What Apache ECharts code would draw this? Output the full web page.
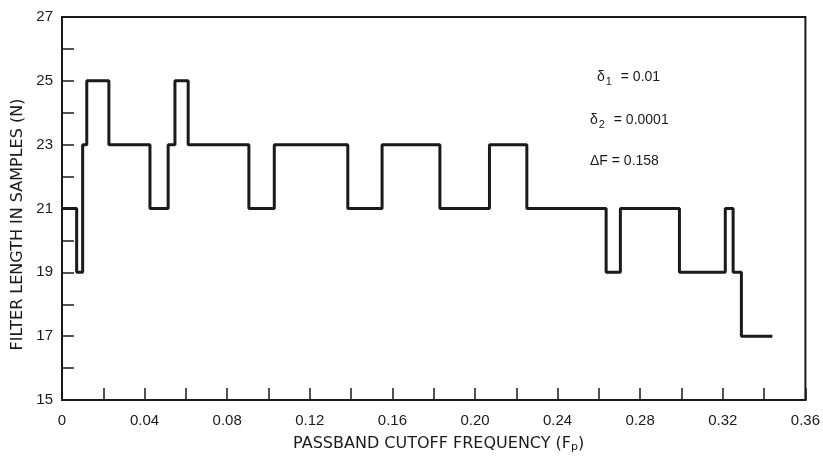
<!DOCTYPE html>
<html>
<head>
<meta charset="utf-8">
<script src="https://cdn.jsdelivr.net/npm/echarts@6/dist/echarts.min.js"></script>
<style>
  html, body { margin: 0; padding: 0; background: #fff; }
  #chart { width: 823px; height: 458px; }
</style>
</head>
<body>
<div id="chart"></div>
<script>
// frequency where each level starts (step 'end'), last point closes the trace
const stepStart = [0, 0.0071, 0.0100, 0.0120, 0.0227, 0.0426, 0.0514, 0.0547, 0.0611,
  0.0905, 0.1028, 0.1384, 0.1550, 0.1830, 0.2070, 0.2251, 0.2635, 0.2704, 0.2990,
  0.3212, 0.3250, 0.3290, 0.3440]
const filterLen = [21, 19, 23, 25, 23, 21, 23, 25, 23,
  21, 23, 21, 23, 21, 23, 21, 19, 21, 19,
  21, 19, 17, 17]
const xLabels = ['0', '0.04', '0.08', '0.12', '0.16', '0.20', '0.24', '0.28', '0.32', '0.36']
const yLabels = [15, 17, 19, 21, 23, 25, 27]
const notes = ['{d|δ}{s|1} = 0.01', '{d|δ}{s|2} = 0.0001', 'ΔF = 0.158']

const font = 'Liberation Sans'
const nameFont = 'DejaVu Sans'
const ink = '#1a1a1a'

const chart = echarts.init(document.getElementById('chart'))

const option = {
  animation: false,
  grid: { left: 62, right: 17, top: 17, bottom: 52, show: true, borderColor: ink, borderWidth: 2 },
  xAxis: {
    type: 'value', min: 0, max: 0.36, interval: 0.02,
    axisLine: { lineStyle: { color: ink, width: 2 } },
    axisTick: { inside: true, length: 12, lineStyle: { color: ink, width: 1.5 } },
    splitLine: { show: false },
    axisLabel: {
      color: ink, fontFamily: font, fontSize: 15, margin: 13,
      formatter: v => {
        const i = Math.round(v / 0.04 * 1000) / 1000
        return Number.isInteger(i) ? xLabels[i] : ''
      }
    },
    name: 'PASSBAND CUTOFF FREQUENCY (F{s|p})',
    nameLocation: 'middle', nameGap: 34,
    nameTextStyle: {
      color: ink, fontFamily: nameFont, fontSize: 16, padding: [0, 0, 0, 10],
      rich: { s: { fontFamily: nameFont, fontSize: 11, color: ink, padding: [8, 0, 0, 0] } }
    }
  },
  yAxis: {
    type: 'value', min: 15, max: 27, interval: 1,
    axisLine: { show: true, lineStyle: { color: ink, width: 2 } },
    axisTick: { show: true, inside: true, length: 12, lineStyle: { color: ink, width: 1.5 } },
    splitLine: { show: false },
    axisLabel: {
      color: ink, fontFamily: font, fontSize: 15, margin: 9,
      formatter: v => yLabels.includes(v) ? String(v) : ''
    },
    name: 'FILTER LENGTH IN SAMPLES (N)',
    nameLocation: 'middle', nameGap: 33,
    nameTextStyle: { color: ink, fontFamily: nameFont, fontSize: 16, padding: [0, 32, 0, 0] }
  },
  graphic: notes.map((t, i) => ({
    type: 'text',
    left: i === 0 ? 597 : 590,
    top: [70, 113, 154][i],
    style: {
      text: t, fill: ink, font: '14px ' + font,
      rich: {
        d: { fontFamily: font, fontSize: 14, fill: ink },
        s: { fontFamily: font, fontSize: 11, fill: ink, padding: [10, 5, 0, 1] }
      }
    }
  })),
  series: [{
    type: 'line',
    step: 'end',
    data: stepStart.map((x, i) => [x, filterLen[i]]),
    symbol: 'none',
    lineStyle: { color: ink, width: 3 }
  }]
}
chart.setOption(option)
</script>
</body>
</html>
